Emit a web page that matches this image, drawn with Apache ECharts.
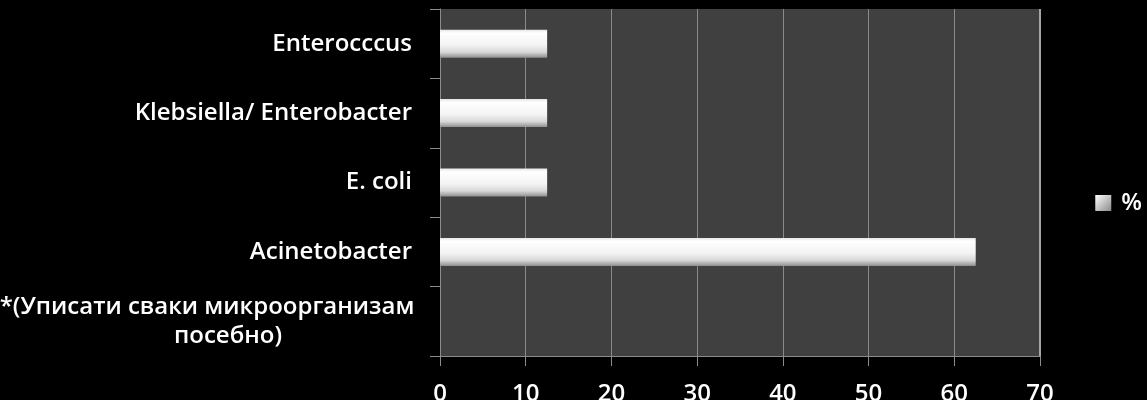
<!DOCTYPE html>
<html>
<head>
<meta charset="utf-8">
<style>
  html, body { margin: 0; padding: 0; background: #000; }
  #chart { width: 1147px; height: 400px; }
</style>
<script src="https://cdn.jsdelivr.net/npm/echarts@6/dist/echarts.min.js"></script>
</head>
<body>
<div id="chart"></div>
<script>
// Categories, listed from the bottom of the axis to the top
const categories = [
  '*(Уписати сваки микроорганизам посебно)',
  'Acinetobacter',
  'E. coli',
  'Klebsiella/ Enterobacter',
  'Enterocccus'
];
// Share of isolates, %
const percentValues = [null, 62.5, 12.5, 12.5, 12.5];
const seriesName = '%';
const xTicks = { min: 0, max: 70, interval: 10 };

const FONT = '"Open Sans", "DejaVu Sans", sans-serif';
const LABEL_SIZE = 24;
const LONG_LINE_W = 410;

const chart = echarts.init(document.getElementById('chart'));

const barFill = new echarts.graphic.LinearGradient(0, 0, 0, 1, [
  { offset: 0, color: '#e6e6e6' },
  { offset: 0.12, color: '#ffffff' },
  { offset: 0.55, color: '#f3f3f3' },
  { offset: 0.8, color: '#d8d8d8' },
  { offset: 0.9, color: '#b4b4b4' },
  { offset: 1, color: '#8e8e8e' }
]);

chart.setOption({
  backgroundColor: '#000000',
  animation: false,
  grid: {
    left: 440, right: 107, top: 9, bottom: 44,
    containLabel: false,
    outerBoundsMode: 'none',
    show: true,
    backgroundColor: '#404040',
    borderWidth: 0
  },
  legend: {
    right: 0,
    top: 186,
    itemWidth: 16,
    itemHeight: 16,
    icon: 'rect',
    textStyle: {
      color: '#ffffff', fontSize: 24, fontFamily: FONT, fontWeight: 600,
      padding: [0, 0, 0, 5]
    },
    data: [{
      name: seriesName,
      itemStyle: {
        color: new echarts.graphic.LinearGradient(0, 0, 1, 1, [
          { offset: 0, color: '#ffffff' },
          { offset: 1, color: '#8a8a8a' }
        ])
      }
    }]
  },
  xAxis: {
    type: 'value',
    min: xTicks.min,
    max: xTicks.max,
    interval: xTicks.interval,
    axisLine: { show: true, lineStyle: { color: '#8c8c8c', width: 1 } },
    axisTick: { show: true, length: 10, lineStyle: { color: '#8c8c8c' } },
    splitLine: { show: true, lineStyle: { color: '#8a8a8a', width: 1 } },
    axisLabel: {
      color: '#ffffff', fontSize: LABEL_SIZE, fontFamily: FONT, fontWeight: 600,
      margin: 26
    }
  },
  yAxis: {
    type: 'category',
    data: categories,
    axisLine: { show: true, lineStyle: { color: '#8c8c8c', width: 1 } },
    axisTick: { show: true, length: 10, lineStyle: { color: '#8c8c8c' } },
    axisLabel: {
      color: '#ffffff', fontSize: LABEL_SIZE, fontFamily: FONT, fontWeight: 600,
      margin: 28,
      formatter: function (v) {
        if (v.indexOf('*(') === 0) {
          return '{a|*(Уписати сваки микроорганизам}\n{b|посебно)}';
        }
        return v;
      },
      rich: {
        a: { width: LONG_LINE_W, align: 'center', color: '#ffffff', fontSize: LABEL_SIZE,
             fontFamily: FONT, fontWeight: 600, lineHeight: 29 },
        b: { width: LONG_LINE_W - 42, align: 'center', padding: [0, 0, 0, 42],
             color: '#ffffff', fontSize: LABEL_SIZE, fontFamily: FONT, fontWeight: 600, lineHeight: 29 }
      }
    }
  },
  series: [{
    name: seriesName,
    type: 'bar',
    data: percentValues,
    barWidth: 28,
    itemStyle: {
      color: barFill,
      shadowColor: 'rgba(0,0,0,0.65)',
      shadowBlur: 6,
      shadowOffsetX: 2,
      shadowOffsetY: 3
    }
  }]
});

// Right edge of the plot area is drawn a little brighter
chart.setOption({
  graphic: [{
    type: 'line',
    shape: {
      x1: chart.convertToPixel({ xAxisIndex: 0 }, xTicks.max),
      y1: 9,
      x2: chart.convertToPixel({ xAxisIndex: 0 }, xTicks.max),
      y2: 356
    },
    style: { stroke: '#a6a6a6', lineWidth: 2 },
    z: 5
  }]
});
</script>
</body>
</html>
